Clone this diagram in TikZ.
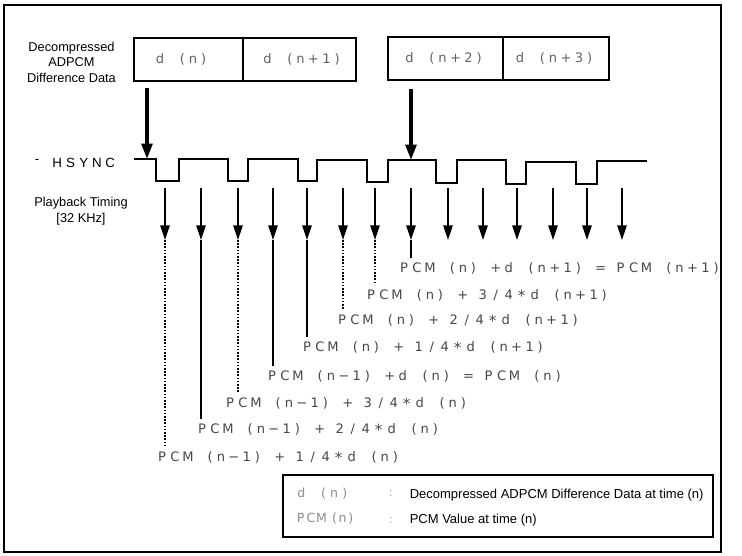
\documentclass[tikz,border=0pt]{standalone}
\usepackage{fontspec}
\setmainfont{Liberation Sans}
\newfontfamily\fmfont{DejaVu Sans}
\usetikzlibrary{arrows.meta}
\newdimen\fwwidth
\newdimen\fwspace
\newdimen\fwpar
\fwpar=3.6pt
\def\fwendmark{FWEND}
\def\fw#1#2#3{\fwwidth=#1\relax\fwspace=#2\relax\fwloop#3\fwendmark}
\def\fwloop#1{%
  \ifx#1\fwendmark\else
    \ifx#1~\hspace*{\fwspace}%
    \else\ifx#1(\makebox[\fwwidth][c]{\hspace*{\fwpar}(}%
    \else\ifx#1)\makebox[\fwwidth][c]{)\hspace*{\fwpar}}%
    \else\ifx#1*\makebox[\fwwidth][c]{\raisebox{-0.2em}{\fontsize{11.5pt}{11.5pt}\selectfont *}}%
    \else\makebox[\fwwidth][c]{#1}%
    \fi\fi\fi\fi
    \expandafter\fwloop
  \fi}
\newcommand{\Fm}[1]{\fw{9.75pt}{5.2pt}{#1}}
\begin{document}
\begin{tikzpicture}[x=0.75pt,y=-0.75pt,
  frame/.style={line width=1.5pt},
  fmla/.style={font=\fmfont\fontsize{9.8pt}{10pt}\selectfont, text=black!72, inner sep=0pt},
  cell/.style={draw, line width=1.1pt, minimum height=32.25pt, inner sep=0pt,
    font=\fmfont\fontsize{9.8pt}{10pt}\selectfont, text=black!62},
  lab/.style={font=\fontsize{9.6pt}{11.6pt}\selectfont, inner sep=0pt, align=center},
  hsf/.style={font=\fontsize{10pt}{11pt}\selectfont, inner sep=0pt},
  legp/.style={font=\fmfont\fontsize{9.4pt}{10pt}\selectfont, text=black!45, inner sep=0pt},
  legc/.style={font=\fmfont\fontsize{9pt}{10pt}\selectfont, text=black!30, inner sep=0pt},
  legt/.style={font=\fontsize{9.75pt}{11pt}\selectfont, inner sep=0pt},
  bigarrow/.style={line width=2.6pt, -{Triangle[length=11.5pt,width=8pt]}},
  tarrow/.style={line width=1.5pt, -{Triangle[length=11pt,width=7pt]}},
  solidext/.style={line width=1.5pt},
  dotext/.style={line width=1.4pt, dash pattern=on 1.2pt off 1.2pt},
  wave/.style={line width=1.5pt}
]
\useasboundingbox (0,0) rectangle (742,556);
\draw[frame] (4,5) rectangle (721,552);

% left labels
\node[lab] (ddata) at (71.5,62) {Decompressed\\ADPCM\\Difference Data};
\node[lab, font=\fontsize{9.6pt}{12pt}\selectfont] (pbt) at (81,211) {Playback Timing\\{[32 KHz]}};
\node[hsf, anchor=base] (hsbar) at (37,164) {-};
\node[hsf, anchor=base west] (hsync) at (50.4,167.5) {\fw{9.94pt}{0pt}{HSYNC}};

% data cells
\node[cell, minimum width=81.75pt] (c1) at (188.5,59.5) {\Fm{d~(n)}\hspace*{8.25pt}};
\node[cell, minimum width=84.75pt] (c2) at (299.5,59.5) {\hspace*{6pt}\Fm{d~(n+1)}};
\node[cell, minimum width=86.25pt] (c3) at (445.5,58.5) {\Fm{d~(n+2)}};
\node[cell, minimum width=79.5pt] (c4) at (556,58.5) {\Fm{d~(n+3)}};

% big arrows
\coordinate (a1s) at (147,88);
\coordinate (a1e) at (147,159);
\coordinate (a2s) at (411,89);
\coordinate (a2e) at (411,160);
\draw[bigarrow] (a1s) -- (a1e);
\draw[bigarrow] (a2s) -- (a2e);

% HSYNC waveform
\draw[wave] (134,159) -- (156,159) -- (156,181) -- (179,181) -- (179,159)
  -- (228,159) -- (228,181) -- (248,181) -- (248,159) -- (298,159) -- (298,181)
  -- (317,181) -- (317,160) -- (367,160) -- (367,182) -- (388,182) -- (388,160)
  -- (436,160) -- (436,183) -- (457,183) -- (457,160) -- (506,160) -- (506,184)
  -- (526,184) -- (526,162) -- (576,162) -- (576,184) -- (597,184) -- (597,161)
  -- (647,161);

% playback timing arrows
\foreach \x [count=\i] in {165,201,238,273,307,343,375,411,448,483,517,553,587,622} {
  \coordinate (t\i) at (\x,188);
  \coordinate (h\i) at (\x,240);
  \draw[tarrow] (t\i) -- (h\i);
}

% result labels
\node[fmla, anchor=base west] (l1) at (397.2,272) {\Fm{PCM~(n)~+d~(n+1)~=~PCM~(n+1)}};
\node[fmla, anchor=base west] (l2) at (364.2,299) {\Fm{PCM~(n)~+~3/4*d~(n+1)}};
\node[fmla, anchor=base west] (l3) at (335.2,324) {\Fm{PCM~(n)~+~2/4*d~(n+1)}};
\node[fmla, anchor=base west] (l4) at (300.2,351) {\Fm{PCM~(n)~+~1/4*d~(n+1)}};
\node[fmla, anchor=base west] (l5) at (265.2,380) {\Fm{PCM~(n−1)~+d~(n)~=~PCM~(n)}};
\node[fmla, anchor=base west] (l6) at (223.2,407) {\Fm{PCM~(n−1)~+~3/4*d~(n)}};
\node[fmla, anchor=base west] (l7) at (195.2,433) {\Fm{PCM~(n−1)~+~2/4*d~(n)}};
\node[fmla, anchor=base west] (l8) at (155.2,461) {\Fm{PCM~(n−1)~+~1/4*d~(n)}};

% extension lines
\draw[dotext]   (h1) -- ([yshift=3pt]h1 |- l8.north);
\draw[solidext] (h2) -- ([yshift=3pt]h2 |- l7.north);
\draw[dotext]   (h3) -- ([yshift=3pt]h3 |- l6.north);
\draw[solidext] (h4) -- ([yshift=3pt]h4 |- l5.north);
\draw[solidext] (h5) -- ([yshift=3pt]h5 |- l4.north);
\draw[dotext]   (h6) -- ([yshift=3pt]h6 |- l3.north);
\draw[dotext]   (h7) -- ([yshift=3pt]h7 |- l2.north);
\draw[solidext] (h8) -- ([yshift=3pt]h8 |- l1.north);

% legend
\node[draw, frame, minimum width=322.5pt, minimum height=46.5pt, inner sep=0pt] (legend) at (498,506) {};
\node[legp, anchor=base west] (ld) at (294.5,497) {\Fm{d~(n)}};
\node[legp, anchor=base west] (lp) at (295,522) {\fw{7.9pt}{0pt}{PCM(n)}};
\node[legc] (k1) at (391,493) {:};
\node[legc] (k2) at (391,520) {:};
\node[legt, anchor=base west] (d1) at (409.5,498) {Decompressed ADPCM Difference Data at time (n)};
\node[legt, anchor=base west] (d2) at (409.5,523) {PCM Value at time (n)};
\end{tikzpicture}
\end{document}
